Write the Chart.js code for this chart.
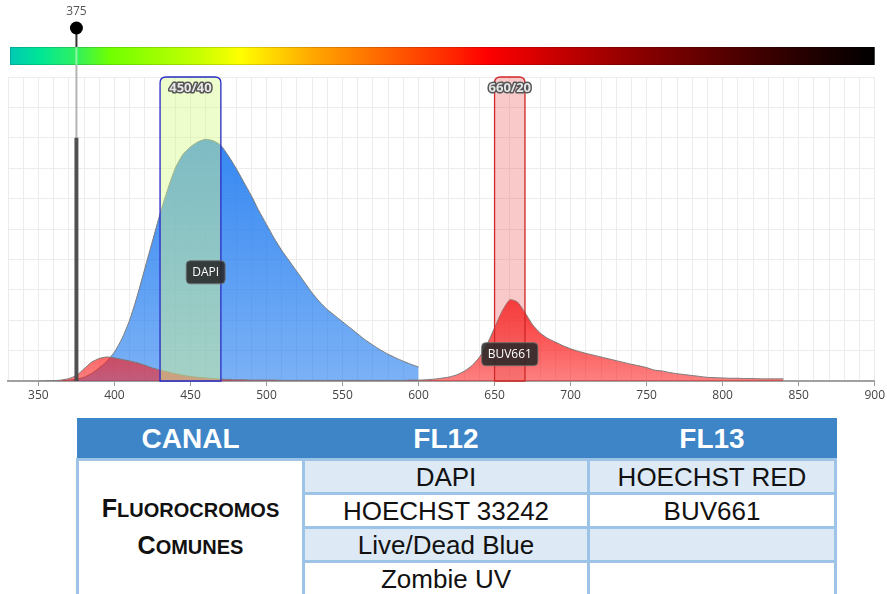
<!DOCTYPE html>
<html>
<head>
<meta charset="utf-8">
<script src="https://cdn.jsdelivr.net/npm/chart.js@4"></script>
<style>
  body { margin: 0; background: #fff; width: 887px; height: 594px; overflow: hidden; position: relative; font-family: "Liberation Sans", Arial, sans-serif; }
  #wrap { position: absolute; left: 0; top: 0; width: 887px; height: 410px; }
  table { position: absolute; left: 76px; top: 418px; width: 758px; border-collapse: collapse; table-layout: fixed; }
  th { background: #3d85c6; color: #fff; font: bold 28px "Liberation Sans", Arial, sans-serif; height: 38px; padding: 0; border: 2px solid #3d85c6; }
  td { border: 3px solid #9dc3e6; font-size: 26px; color: #111; text-align: center; height: 31px; padding: 0; line-height: 28px; }
  td.alt { background: #dde9f5; }
  td.first { background: #fff; font-weight: bold; line-height: 35px; }
  .big { font-size: 25px; }
  .sm { font-size: 20px; }
</style>
</head>
<body>
<div id="wrap"><canvas id="myChart" width="887" height="410"></canvas></div>

<table>
  <colgroup><col style="width:226px"><col style="width:285px"><col style="width:247px"></colgroup>
  <tr><th>CANAL</th><th>FL12</th><th>FL13</th></tr>
  <tr><td class="first" rowspan="4"><span class="big">F</span><span class="sm">LUOROCROMOS</span><br><span class="big">C</span><span class="sm">OMUNES</span></td><td class="alt">DAPI</td><td class="alt">HOECHST RED</td></tr>
  <tr><td>HOECHST 33242</td><td>BUV661</td></tr>
  <tr><td class="alt">Live/Dead Blue</td><td class="alt"></td></tr>
  <tr><td>Zombie UV</td><td></td></tr>
</table>

<script>
// DAPI emission
var dapiNm = [350,355,360,365,370,375,380,385,390,395,
              400,405,410,415,420,425,430,435,440,445,
              450,455,460,465,470,475,480,485,490,495,
              500,505,510,515,520,525,530,535,540,545,
              550,555,560,565,570,575,580,585,590,595,600];
var dapiVal = [0,0,0,0.1,0.3,0.6,1.2,2.5,4.3,6.5,
               9.5,14,20,28,37,46,55,63,70,74.5,
               77,78.7,79.5,79,77.5,74,70,65.5,61,56,
               51.5,47,43,39.5,36,32.5,29,26,23.5,21.5,
               19.5,17.5,15.5,13.5,11.8,10.2,8.8,7.6,6.5,5.5,4.6];

// BUV661 emission
var buvNm = [355,360,365,370,375,380,385,390,395,400,
             405,410,415,420,425,430,435,440,445,450,
             455,460,465,470,475,480,485,490,495,500,
             505,510,515,520,525,530,535,540,545,550,
             555,560,565,570,575,580,585,590,595,600,
             605,610,615,620,625,630,635,640,645,650,
             655,660,665,670,675,680,685,690,695,700,
             705,710,715,720,725,730,735,740,745,750,
             755,760,765,770,775,780,785,790,795,800,
             805,810,815,820,825,830,835,840];
var buvVal = [0,0.1,0.3,0.8,1.8,4,6.2,7.4,7.9,7.6,
              7.1,6.6,6,5.2,4.3,3.6,3,2.4,1.9,1.5,
              1.2,1,0.8,0.6,0.5,0.4,0.4,0.3,0.3,0.3,
              0.3,0.2,0.2,0.2,0.2,0.2,0.2,0.2,0.2,0.2,
              0.2,0.2,0.2,0.2,0.2,0.2,0.2,0.2,0.3,0.3,
              0.4,0.6,0.9,1.3,2,3.2,5,7.8,12,17.5,
              23,26.7,26,22.5,18.5,15.8,14,12.8,11.6,10.6,
              9.8,9.1,8.5,7.9,7.3,6.7,6.1,5.5,5,4.4,
              3.6,3.3,2.8,2.4,2.1,1.8,1.5,1.2,1.1,1,
              0.9,0.9,0.8,0.8,0.7,0.7,0.7,0.7];

var dyeNames = ['BUV661', 'DAPI'];
var filterNames = ['450/40', '660/20'];
var filterCenters = [450, 660];
var filterWidths = [40, 20];
var laserNm = 375;
var laserPower = 80;
var xTickLabels = [350,400,450,500,550,600,650,700,750,800,850,900];

// colour bar above the plot
var barStops = [[0,'#00c8b4'],[0.035,'#00e696'],[0.076,'#30f060'],[0.116,'#70ff00'],[0.22,'#c8ff00'],
  [0.266,'#ffff00'],[0.347,'#ffaa00'],[0.434,'#ff6400'],[0.509,'#ff2800'],[0.551,'#ff0000'],
  [0.662,'#b40000'],[0.74,'#840000'],[0.836,'#500000'],[0.913,'#280000'],[1,'#000000']];

function vertGrad(chart, rgb, topVal, aTop, aBot) {
  var area = chart.chartArea;
  if (!area) return 'rgba(' + rgb + ',' + aBot + ')';
  var y0 = chart.scales.y.getPixelForValue(topVal);
  var g = chart.ctx.createLinearGradient(0, y0, 0, area.bottom);
  g.addColorStop(0, 'rgba(' + rgb + ',' + aTop + ')');
  g.addColorStop(1, 'rgba(' + rgb + ',' + aBot + ')');
  return g;
}

function topRound(ctx, x, y, w, h, r) {
  ctx.beginPath();
  ctx.moveTo(x, y + h);
  ctx.lineTo(x, y + r);
  ctx.quadraticCurveTo(x, y, x + r, y);
  ctx.lineTo(x + w - r, y);
  ctx.quadraticCurveTo(x + w, y, x + w, y + r);
  ctx.lineTo(x + w, y + h);
  ctx.closePath();
}

function roundBox(ctx, x, y, w, h, r) {
  ctx.beginPath();
  ctx.moveTo(x + r, y);
  ctx.lineTo(x + w - r, y);
  ctx.quadraticCurveTo(x + w, y, x + w, y + r);
  ctx.lineTo(x + w, y + h - r);
  ctx.quadraticCurveTo(x + w, y + h, x + w - r, y + h);
  ctx.lineTo(x + r, y + h);
  ctx.quadraticCurveTo(x, y + h, x, y + h - r);
  ctx.lineTo(x, y + r);
  ctx.quadraticCurveTo(x, y, x + r, y);
  ctx.closePath();
}

var decor = {
  id: 'decor',
  beforeDraw: function(chart) {
    var ctx = chart.ctx, a = chart.chartArea;
    var x0 = a.left + 2, x1 = a.right;
    var g = ctx.createLinearGradient(x0, 0, x1, 0);
    barStops.forEach(function(s){ g.addColorStop(s[0], s[1]); });
    ctx.save();
    ctx.fillStyle = g;
    ctx.fillRect(x0, a.top - 30, x1 - x0, 18);
    ctx.strokeStyle = 'rgba(0,0,0,0.15)';
    ctx.lineWidth = 1;
    ctx.strokeRect(x0 + 0.5, a.top - 29.5, x1 - x0 - 1, 17);
    ctx.restore();
  },
  afterDatasetsDraw: function(chart) {
    var ctx = chart.ctx, a = chart.chartArea;
    var xs = chart.scales.x, ys = chart.scales.y;
    ctx.save();

    // filters
    var fills = ['rgba(215,250,140,0.45)', 'rgba(235,85,85,0.32)'];
    var lines = ['#2a2ac8', '#d02828'];
    filterCenters.forEach(function(c, i) {
      var l = xs.getPixelForValue(c - filterWidths[i] / 2);
      var r = xs.getPixelForValue(c + filterWidths[i] / 2);
      topRound(ctx, l, a.top, r - l, a.bottom - a.top, 6);
      ctx.fillStyle = fills[i];
      ctx.fill();
      ctx.strokeStyle = lines[i];
      ctx.lineWidth = 1.3;
      ctx.stroke();
      ctx.font = 'bold 13px "Open Sans", sans-serif';
      ctx.textAlign = 'center';
      ctx.textBaseline = 'middle';
      ctx.lineJoin = 'round';
      ctx.strokeStyle = '#555';
      ctx.lineWidth = 3;
      ctx.strokeText(filterNames[i], (l + r) / 2, a.top + 11);
      ctx.fillStyle = '#e6e6e6';
      ctx.fillText(filterNames[i], (l + r) / 2, a.top + 11);
    });

    // laser line
    var lx = xs.getPixelForValue(laserNm);
    ctx.lineWidth = 2;
    ctx.strokeStyle = '#333';
    ctx.beginPath(); ctx.moveTo(lx, 28); ctx.lineTo(lx, a.top - 30); ctx.stroke();
    ctx.strokeStyle = 'rgba(255,255,255,0.45)';
    ctx.beginPath(); ctx.moveTo(lx, a.top - 30); ctx.lineTo(lx, a.top - 12); ctx.stroke();
    ctx.strokeStyle = '#b4b4b4';
    ctx.beginPath(); ctx.moveTo(lx, a.top - 12); ctx.lineTo(lx, a.bottom); ctx.stroke();
    ctx.strokeStyle = 'rgba(60,60,60,0.85)';
    ctx.lineWidth = 4;
    ctx.beginPath(); ctx.moveTo(lx, ys.getPixelForValue(laserPower)); ctx.lineTo(lx, a.bottom); ctx.stroke();
    ctx.fillStyle = '#000';
    ctx.beginPath(); ctx.arc(lx, 28, 6.5, 0, Math.PI * 2); ctx.fill();
    ctx.font = '12px "Open Sans", sans-serif';
    ctx.fillStyle = '#555';
    ctx.textAlign = 'center';
    ctx.textBaseline = 'middle';
    ctx.fillText(String(laserNm), lx, 12);

    // dye labels, near the emission peak
    var labelFrac = [0.33, 0.45];
    chart.data.datasets.forEach(function(ds, i) {
      var peak = ds.data.reduce(function(p, d){ return d.y > p.y ? d : p; });
      var cx = xs.getPixelForValue(peak.x);
      var cy = ys.getPixelForValue(peak.y * labelFrac[i]);
      ctx.font = '12px "Open Sans", sans-serif';
      var w = ctx.measureText(dyeNames[i]).width + 12;
      roundBox(ctx, cx - w / 2, cy - 11.5, w, 23, 4);
      ctx.fillStyle = 'rgba(40,40,40,0.88)';
      ctx.fill();
      ctx.strokeStyle = 'rgba(110,110,110,0.9)';
      ctx.lineWidth = 1;
      ctx.stroke();
      ctx.fillStyle = '#fff';
      ctx.fillText(dyeNames[i], cx, cy + 0.5);
    });
    ctx.restore();
  }
};

var ctx = document.getElementById('myChart').getContext('2d');
var myChart = new Chart(ctx, {
  type: 'line',
  data: {
    datasets: [{
      label: dyeNames[0],
      data: buvNm.map(function(x, i){ return {x: x, y: buvVal[i]}; }),
      backgroundColor: function(c){ return vertGrad(c.chart, '250,25,25', 27, 0.9, 0.55); },
      borderColor: '#7a7a7a',
      borderWidth: 1,
      pointRadius: 0,
      tension: 0.2,
      fill: 'origin'
    }, {
      label: dyeNames[1],
      data: dapiNm.map(function(x, i){ return {x: x, y: dapiVal[i]}; }),
      backgroundColor: function(c){ return vertGrad(c.chart, '35,125,240', 80, 0.92, 0.6); },
      borderColor: '#7a7a7a',
      borderWidth: 1,
      pointRadius: 0,
      tension: 0.2,
      fill: 'origin'
    }]
  },
  options: {
    responsive: false,
    animation: false,
    layout: { padding: { left: 8, right: 12, top: 77, bottom: 0 } },
    plugins: { legend: { display: false }, tooltip: { enabled: false } },
    scales: {
      x: {
        type: 'linear',
        min: 330,
        max: 900,
        afterFit: function(scale){ scale.height = 29; },
        ticks: {
          stepSize: 10,
          autoSkip: false,
          maxRotation: 0,
          padding: 2,
          color: '#444',
          font: { family: '"Open Sans", sans-serif', size: 12 },
          callback: function(v){ return xTickLabels.indexOf(v) >= 0 ? String(v) : ''; }
        },
        grid: {
          color: '#ececec',
          tickLength: 5,
          tickColor: function(c){ return (c.tick && xTickLabels.indexOf(c.tick.value) >= 0) ? '#999' : 'rgba(0,0,0,0)'; }
        },
        border: { color: '#a0a0a0', width: 2 }
      },
      y: {
        min: 0,
        max: 100,
        afterFit: function(scale){ scale.width = 0; },
        ticks: { stepSize: 10, display: false },
        grid: { color: '#ececec', drawTicks: false },
        border: { display: false }
      }
    }
  },
  plugins: [decor]
});
</script>
</body>
</html>
